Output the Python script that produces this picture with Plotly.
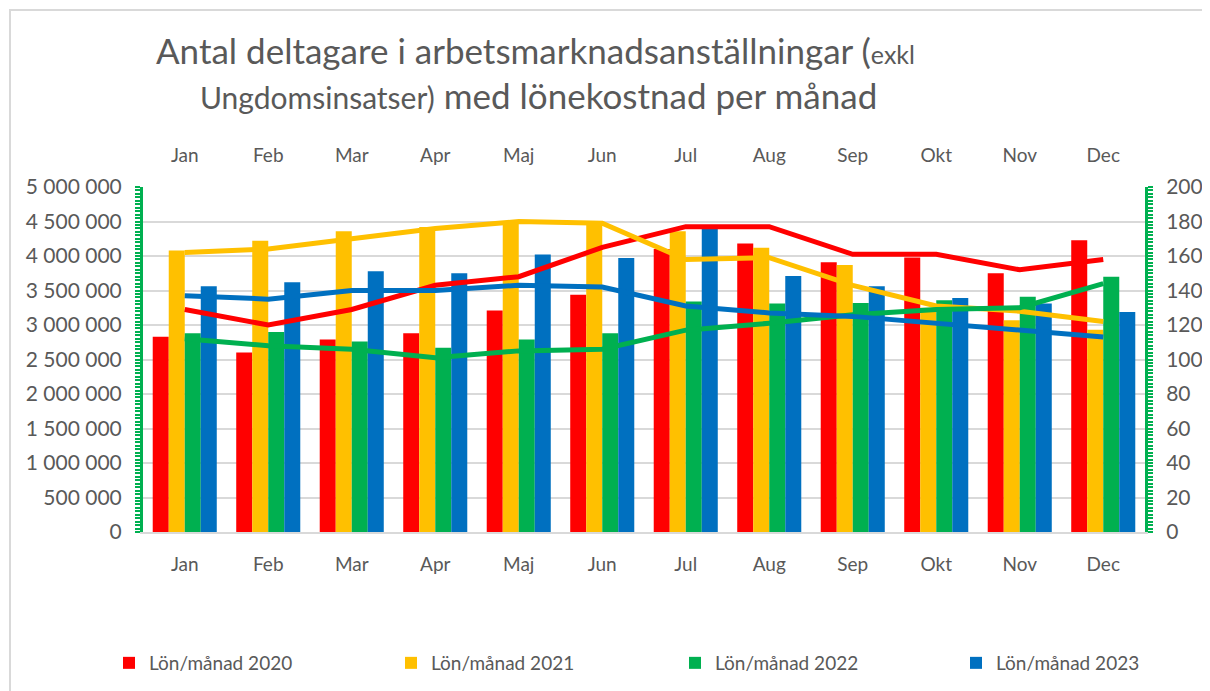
import plotly.graph_objects as go

MONTHS = ['Jan', 'Feb', 'Mar', 'Apr', 'Maj', 'Jun', 'Jul', 'Aug', 'Sep', 'Okt', 'Nov', 'Dec']

# Lönekostnad per månad (vänster axel)
LON_2020 = [2830000, 2600000, 2790000, 2880000, 3210000, 3440000, 4100000, 4180000, 3910000, 3980000, 3750000, 4230000]
LON_2021 = [4080000, 4220000, 4360000, 4420000, 4490000, 4480000, 4360000, 4120000, 3870000, 3250000, 3070000, 2930000]
LON_2022 = [2880000, 2900000, 2760000, 2670000, 2790000, 2880000, 3340000, 3310000, 3320000, 3360000, 3410000, 3700000]
LON_2023 = [3560000, 3620000, 3780000, 3750000, 4020000, 3970000, 4390000, 3710000, 3560000, 3390000, 3310000, 3190000]

# Antal deltagare (höger axel)
ANT_2020 = [129, 120, 129, 143, 148, 165, 177, 177, 161, 161, 152, 158]
ANT_2021 = [162, 164, 170, 176, 180, 179, 158, 159, 143, 131, 128, 122]
ANT_2022 = [112, 108, 106, 101, 105, 106, 117, 121, 126, 129, 130, 144]
ANT_2023 = [137, 135, 140, 140, 143, 142, 131, 127, 125, 121, 117, 113]

YEARS = ['2020', '2021', '2022', '2023']
COLORS = ['#FF0000', '#FFC000', '#00B050', '#0070C0']

TEXT = '#595959'
GRID = '#D9D9D9'
AXIS_GREEN = '#00B050'
FONT = 'Lato'

# page has an 8px body margin; figure is sized so the plot area lands at
# page x 143..1145, y 187..532
PH = 345.0


def py(px):
    return (532 - px) / PH


def pxx(px):
    return (px - 143) / 1002.0


LEGEND_X = [109, 391, 675, 956]

fig = go.Figure()

for i, (year, vals, col) in enumerate(zip(YEARS, [LON_2020, LON_2021, LON_2022, LON_2023], COLORS)):
    fig.add_trace(go.Bar(
        x=MONTHS, y=vals, name=f'Lön/månad {year}',
        marker=dict(color=col, line=dict(width=0)),
        xaxis='x', yaxis='y',
        legend='legend' if i == 0 else f'legend{i + 1}',
    ))

for year, vals, col in zip(YEARS, [ANT_2020, ANT_2021, ANT_2022, ANT_2023], COLORS):
    fig.add_trace(go.Scatter(
        x=MONTHS, y=vals, name=f'Antal {year}', mode='lines',
        line=dict(color=col, width=5),
        xaxis='x2', yaxis='y2', showlegend=False,
    ))

legends = {}
for i, lx in enumerate(LEGEND_X):
    key = 'legend' if i == 0 else f'legend{i + 1}'
    legends[key] = dict(
        orientation='h', x=pxx(lx), xanchor='left', y=py(663), yanchor='middle',
        font=dict(family=FONT, size=19, color=TEXT), bgcolor='rgba(0,0,0,0)',
    )

fig.update_layout(
    width=1202, height=683,
    margin=dict(l=135, r=65, t=179, b=159, autoexpand=False),
    paper_bgcolor='white', plot_bgcolor='white',
    font=dict(family=FONT, size=19, color=TEXT),
    barmode='group', bargap=0.233, bargroupgap=0,
    showlegend=True,
    **legends,
    xaxis=dict(
        categoryorder='array', categoryarray=MONTHS, range=[-0.5, 11.5],
        showline=True, linecolor=GRID, linewidth=2, ticks='',
        showgrid=False, ticklabelstandoff=14,
    ),
    xaxis2=dict(
        categoryorder='array', categoryarray=MONTHS, range=[-0.5, 11.5],
        overlaying='x', side='top', showline=False, ticks='', showgrid=False,
        ticklabelstandoff=20, tickfont=dict(size=19, color=TEXT),
    ),
    yaxis=dict(
        range=[0, 5000000], dtick=500000, tickformat=',d',
        showgrid=True, gridcolor=GRID, gridwidth=2, zeroline=False,
        showline=True, linecolor=AXIS_GREEN, linewidth=3,
        ticks='outside', ticklen=5, tickcolor=AXIS_GREEN, tickwidth=2,
        minor=dict(dtick=50000, ticks='outside', ticklen=5, tickcolor=AXIS_GREEN, tickwidth=2, showgrid=False),
        ticklabelstandoff=9, tickfont=dict(size=21),
    ),
    yaxis2=dict(
        range=[0, 200], dtick=20, overlaying='y', side='right',
        showgrid=False, zeroline=False,
        showline=True, linecolor=AXIS_GREEN, linewidth=3,
        ticks='outside', ticklen=5, tickcolor=AXIS_GREEN, tickwidth=2,
        minor=dict(dtick=2, ticks='outside', ticklen=5, tickcolor=AXIS_GREEN, tickwidth=2, showgrid=False),
        ticklabelstandoff=9, tickfont=dict(size=21),
    ),
    separators=', ',
)

# title (two lines, mixed sizes)
fig.add_annotation(
    xref='paper', yref='paper', x=pxx(535), y=py(50), xanchor='center', yanchor='middle',
    text='Antal deltagare i arbetsmarknadsanställningar (<span style="font-size:25px">exkl</span>',
    showarrow=False, font=dict(family=FONT, size=35, color=TEXT),
)
fig.add_annotation(
    xref='paper', yref='paper', x=pxx(538), y=py(95), xanchor='center', yanchor='middle',
    text='<span style="font-size:30px">Ungdomsinsatser)</span> med lönekostnad per månad',
    showarrow=False, font=dict(family=FONT, size=35, color=TEXT),
)

# chart frame (top and left edges visible)
fig.add_shape(
    type='rect', xref='paper', yref='paper',
    x0=pxx(10), x1=pxx(1240), y0=py(720), y1=py(10),
    line=dict(color='#D9D9D9', width=2), fillcolor='rgba(0,0,0,0)', layer='below',
)

fig.write_html('out.html')
